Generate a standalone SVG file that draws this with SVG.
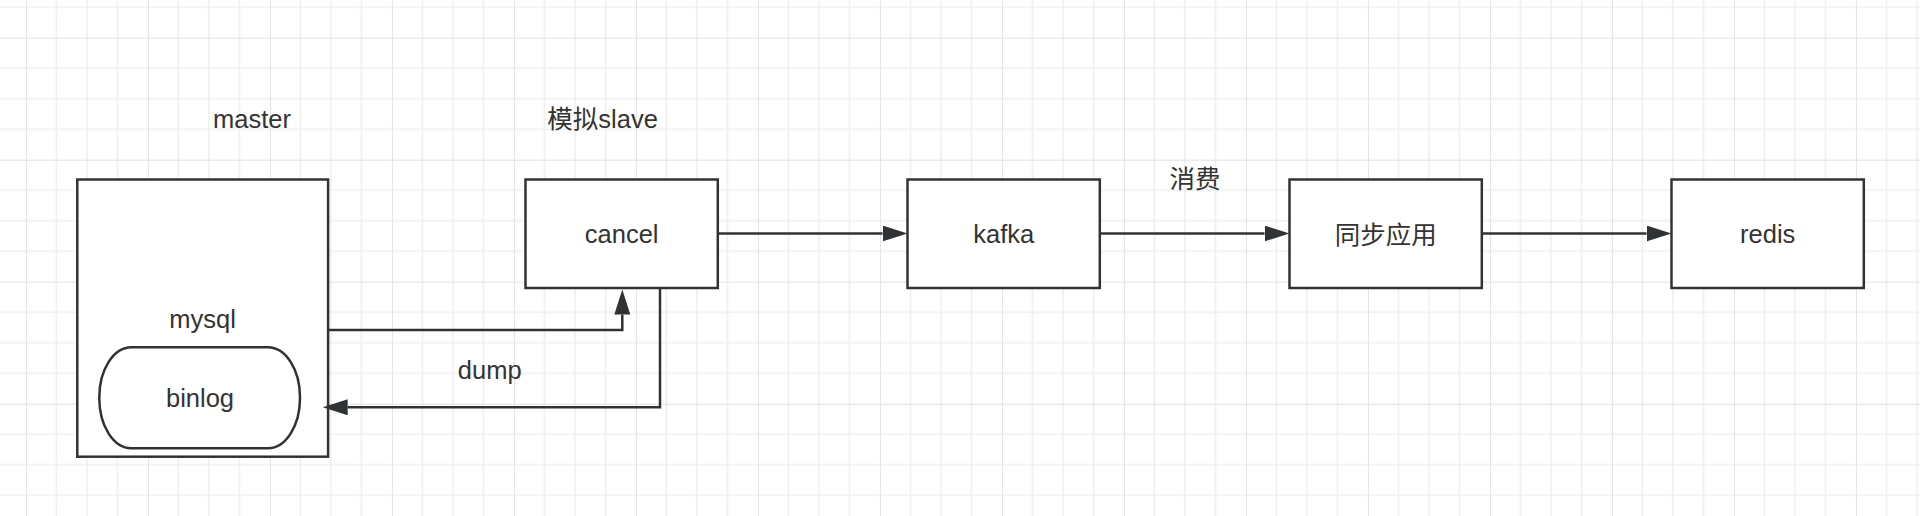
<svg xmlns="http://www.w3.org/2000/svg" width="1920" height="516" viewBox="0 0 1920 516">
  <defs>
    <pattern id="grid" patternUnits="userSpaceOnUse" x="25.9" y="37.7" width="122" height="122">
      <rect width="122" height="122" fill="#ffffff"/>
      <path d="M30.5,0 V122 M61,0 V122 M91.5,0 V122 M0,30.5 H122 M0,61 H122 M0,91.5 H122" stroke="#efefef" stroke-width="1.6" fill="none"/>
      <path d="M0,0 V122 M0,0 H122" stroke="#e2e2e2" stroke-width="2" fill="none"/>
    </pattern>
    <marker id="arrow" markerUnits="userSpaceOnUse" markerWidth="26" markerHeight="18" refX="0" refY="8" orient="auto">
      <path d="M0,0 L25,8 L0,16 Z" fill="#303336"/>
    </marker>
  </defs>
  <style>
    .box { fill: #ffffff; stroke: #303336; stroke-width: 2.5; }
    .edge { fill: none; stroke: #303336; stroke-width: 2.5; marker-end: url(#arrow); }
    .lbl { font-family: "Liberation Sans", "Noto Sans CJK SC", sans-serif; font-size: 25.5px; fill: #333333; text-anchor: middle; }
  </style>
  <rect width="1920" height="516" fill="url(#grid)"/>

  <g id="master">
    <rect class="box" x="77.3" y="179.5" width="250.8" height="277.2"/>
    <text class="lbl" x="252" y="128.3">master</text>
    <text class="lbl" x="202.5" y="327.8">mysql</text>
  </g>
  <g id="binlog">
    <rect class="box" x="99.3" y="347.3" width="200.7" height="101" rx="32" ry="50"/>
    <text class="lbl" x="200" y="406.7">binlog</text>
  </g>
  <g id="cancel">
    <rect class="box" x="525.5" y="179.5" width="192.3" height="108.5"/>
    <text class="lbl" x="602.6" y="128.3">模拟slave</text>
    <text class="lbl" x="621.7" y="242.7">cancel</text>
  </g>
  <g id="kafka">
    <rect class="box" x="907.5" y="179.5" width="192.3" height="108.5"/>
    <text class="lbl" x="1003.7" y="242.7">kafka</text>
  </g>
  <g id="sync">
    <rect class="box" x="1289.5" y="179.5" width="192.3" height="108.5"/>
    <text class="lbl" x="1385.7" y="243.5">同步应用</text>
  </g>
  <g id="redis">
    <rect class="box" x="1671.5" y="179.5" width="192.3" height="108.5"/>
    <text class="lbl" x="1767.7" y="242.7">redis</text>
  </g>

  <g id="connectors">
    <path class="edge" d="M328.1,330 H622.3 V314.5"/>
    <path class="edge" d="M660,288 V407.3 H347.7"/>
    <path class="edge" d="M717.8,233.5 H882.5"/>
    <path class="edge" d="M1099.8,233.5 H1264.5"/>
    <path class="edge" d="M1481.8,233.5 H1646.5"/>
    <text class="lbl" x="489.7" y="379.3">dump</text>
    <text class="lbl" x="1195" y="187.5">消费</text>
  </g>
</svg>
